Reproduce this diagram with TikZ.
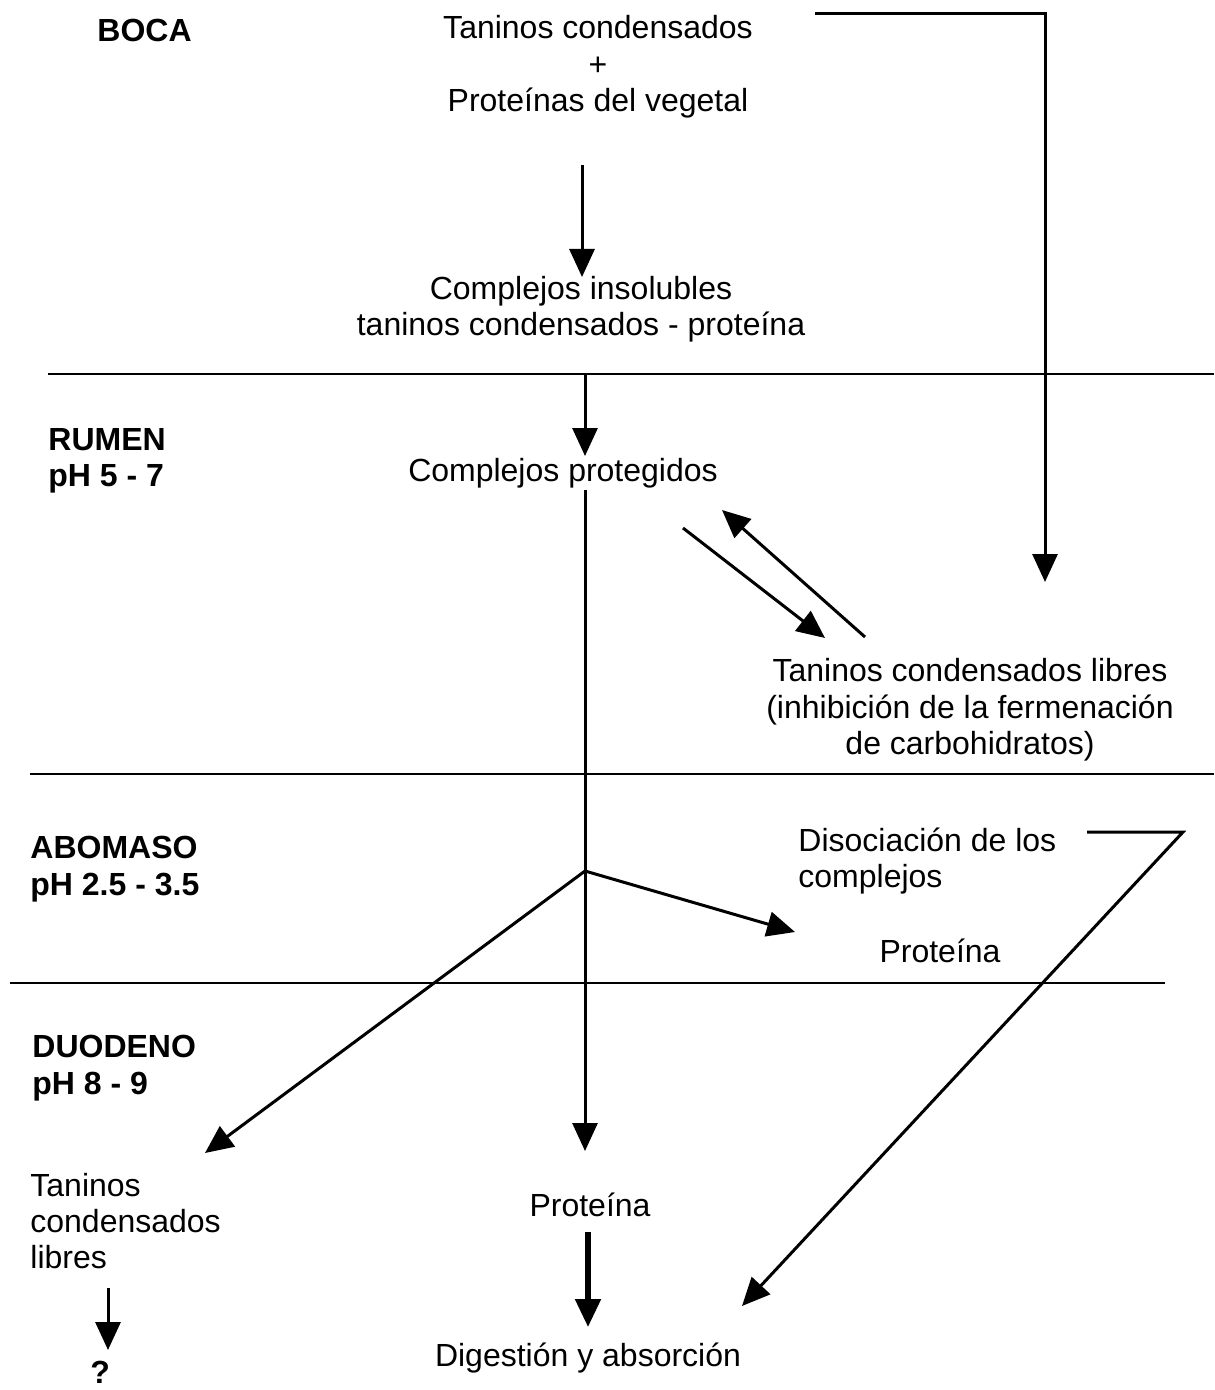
\documentclass[tikz,border=0pt]{standalone}
\usepackage{fontspec}
\setmainfont{Liberation Sans}
\usetikzlibrary{arrows.meta}
\begin{document}
\begin{tikzpicture}[x=0.5pt,y=-0.5pt,
  txt/.style={inner sep=0pt,font=\fontsize{16}{18.2}\selectfont,align=center},
  ltxt/.style={inner sep=0pt,font=\fontsize{16}{18.2}\selectfont,align=left,anchor=west},
  lbl/.style={inner sep=0pt,font=\fontsize{16}{18.2}\selectfont\bfseries,align=left,anchor=west},
  rule/.style={line width=1pt},
  arr/.style={line width=1.5pt,-{Triangle[length=14pt,width=12.5pt]}},
  thickarr/.style={line width=2.6pt,-{Triangle[length=14pt,width=12.5pt]}}]
\useasboundingbox (0,0) rectangle (1214,1390);
% labels
\node[lbl] (boca) at (97,30) {BOCA};
\node[lbl] (rumen) at (48,461) {RUMEN\\pH 5 - 7};
\node[lbl] (abomaso) at (30,869) {ABOMASO\\pH 2.5 - 3.5};
\node[lbl] (duodeno) at (32,1068) {DUODENO\\pH 8 - 9};
% rules
\draw[rule] (48,374) -- (1214,374);
\draw[rule] (30,774) -- (1214,774);
\draw[rule] (10,983) -- (1165,983);
% texts
\node[txt] (top) at (598,67) {Taninos condensados\\+\\Proteínas del vegetal};
\node[txt] (insol) at (581,309) {Complejos insolubles\\taninos condensados - proteína};
\node[txt] (prot) at (563,473) {Complejos protegidos};
\node[txt] (libres) at (970,710) {Taninos condensados libres\\(inhibición de la fermenación\\de carbohidratos)};
\node[ltxt] (disoc) at (798,861) {Disociación de los\\complejos};
\node[txt] (protab) at (940,951) {Proteína};
\node[ltxt] (tanl) at (30,1221) {Taninos\\condensados\\libres};
\node[lbl] (q) at (90,1372) {?};
\node[txt] (protd) at (590,1205) {Proteína};
\node[txt] (dig) at (588,1358) {Digestión y absorción};
% coordinates
\coordinate (a1) at (582,165);
\coordinate (a1t) at (582,277);
\coordinate (a2) at (585,375);
\coordinate (a2t) at (585,456);
\coordinate (a3) at (585,490);
\coordinate (a3t) at (585,1151);
\coordinate (br) at (585,871);
\coordinate (brr) at (795,932);
\coordinate (brl) at (205,1153);
\coordinate (r1) at (683,528);
\coordinate (r1t) at (825,638);
\coordinate (r2) at (865,637);
\coordinate (r2t) at (722,510);
\coordinate (t0) at (815,14);
\coordinate (t1) at (1045,14);
\coordinate (t2) at (1045,582);
\coordinate (d0) at (1087,832);
\coordinate (d1) at (1183,832);
\coordinate (d2) at (742,1306);
\coordinate (p0) at (588,1232);
\coordinate (p1) at (588,1327);
\coordinate (q0) at (108,1288);
\coordinate (q1) at (108,1350);
% connectors
\draw[arr] (a1) -- (a1t);
\draw[arr] (a2) -- (a2t);
\draw[arr] (a3) -- (a3t);
\draw[arr] (br) -- (brr);
\draw[arr] (br) -- (brl);
\draw[arr] (r1) -- (r1t);
\draw[arr] (r2) -- (r2t);
\draw[arr] (t0) -- (t1) -- (t2);
\draw[arr] (d0) -- (d1) -- (d2);
\draw[thickarr] (p0) -- (p1);
\draw[arr] (q0) -- (q1);
\end{tikzpicture}
\end{document}
